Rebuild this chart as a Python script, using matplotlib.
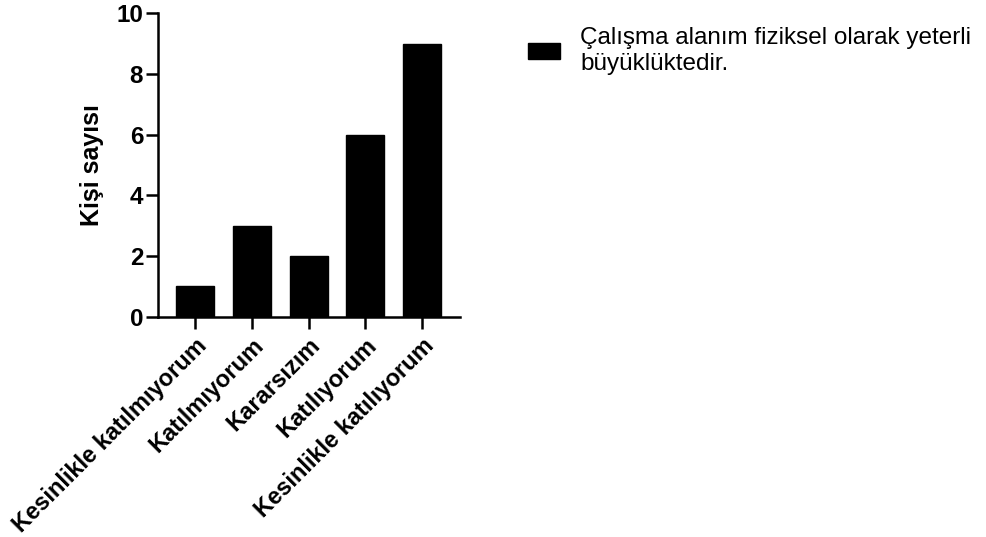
import matplotlib
matplotlib.use("Agg")
import matplotlib.pyplot as plt

plt.rcParams['font.family'] = ['Liberation Sans', 'DejaVu Sans']

# survey answers and how many people gave each
answers = ["Kesinlikle katılmıyorum", "Katılmıyorum", "Kararsızım",
           "Katılıyorum", "Kesinlikle katılıyorum"]
counts = [1, 3, 2, 6, 9]
series_label = "Çalışma alanım fiziksel olarak yeterli\nbüyüklüktedir."
y_ticks = [0, 2, 4, 6, 8, 10]

fig = plt.figure(figsize=(9.87, 5.37), dpi=100)
ax = fig.add_axes([0.1598, 0.4106, 0.3062, 0.5646])

x = list(range(len(answers)))
ax.bar(x, counts, width=0.67, color='black', edgecolor='black',
       label=series_label)

ax.set_xlim(-0.66, 4.67)
ax.set_ylim(0, 10)
ax.set_yticks(y_ticks)
ax.set_xticks(x)
ax.set_xticklabels(answers, rotation=45, ha='right', va='top',
                   rotation_mode='anchor', fontsize=17, fontweight='bold')
for lab in ax.get_yticklabels():
    lab.set_fontsize(17.5)
    lab.set_fontweight('bold')

ax.set_ylabel("Kişi sayısı", fontsize=18, fontweight='bold', labelpad=9)

for side in ['top', 'right']:
    ax.spines[side].set_visible(False)
for side in ['left', 'bottom']:
    ax.spines[side].set_linewidth(1.8)
ax.tick_params(axis='both', width=1.8, length=8.5, color='black')
ax.tick_params(axis='x', pad=4)
ax.tick_params(axis='y', pad=2)

leg = ax.legend(loc='upper left', bbox_to_anchor=(0.513, 0.99),
                bbox_transform=fig.transFigure, frameon=False,
                fontsize=17.5, handlelength=1.32, handleheight=0.65,
                handletextpad=0.82)
leg.get_texts()[0].set_linespacing(1.25)

fig.savefig("out.png", dpi=100)
